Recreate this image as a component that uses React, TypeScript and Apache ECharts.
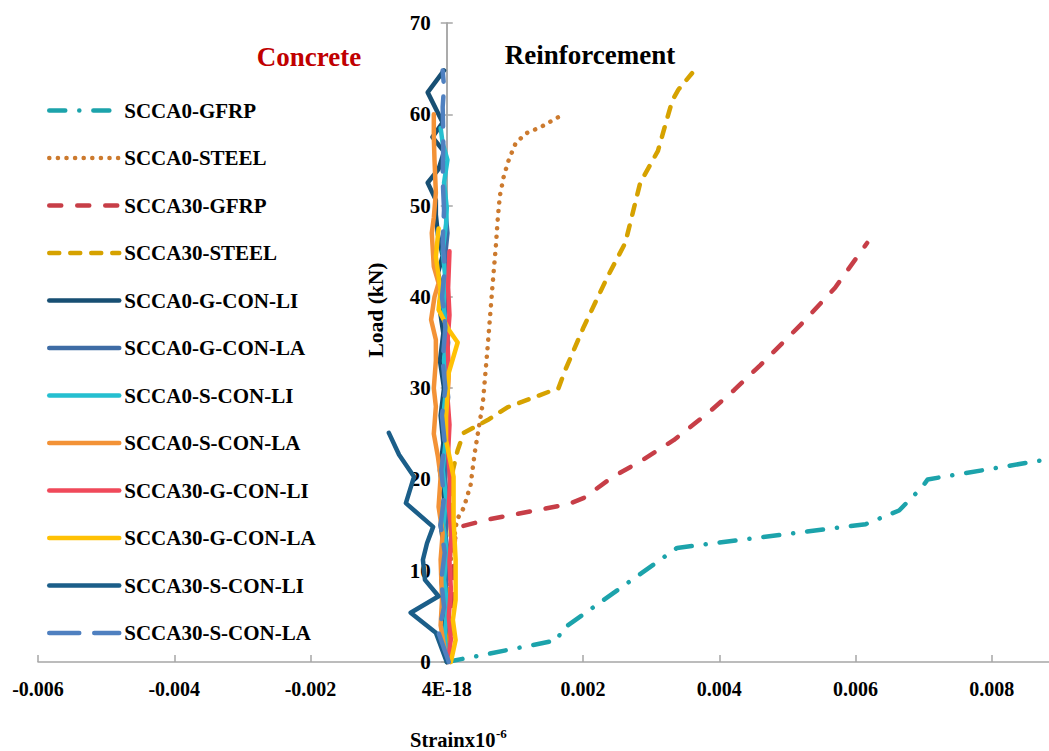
import React, { useEffect, useRef } from "react";
import * as echarts from "echarts";

const FONT = "'Liberation Serif', 'Times New Roman', serif";

const seriesNames = [
  "SCCA0-GFRP",
  "SCCA0-STEEL",
  "SCCA30-GFRP",
  "SCCA30-STEEL",
  "SCCA0-G-CON-LI",
  "SCCA0-G-CON-LA",
  "SCCA0-S-CON-LI",
  "SCCA0-S-CON-LA",
  "SCCA30-G-CON-LI",
  "SCCA30-G-CON-LA",
  "SCCA30-S-CON-LI",
  "SCCA30-S-CON-LA",
];

const xTicks = [-0.006, -0.004, -0.002, 0, 0.002, 0.004, 0.006, 0.008];
const yTicks = [0, 10, 20, 30, 40, 50, 60, 70];

// [strain, load kN]
const scca0Gfrp = [
  [0, 0], [0.00163, 2.4], [0.00168, 3.5], [0.00338, 12.5], [0.00615, 15.1],
  [0.00664, 16.6], [0.00697, 19.1], [0.00706, 20.0], [0.00874, 22.1],
];
const scca0Steel = [
  [0, 0], [0.00006, 11.2], [0.00015, 15.6], [0.00025, 16.9], [0.00035, 19.4],
  [0.00041, 22.9], [0.00053, 28.4], [0.0006, 34.5], [0.00067, 41.1], [0.00072, 45.5],
  [0.00075, 48.7], [0.00078, 51.1], [0.00084, 53.3], [0.00091, 55.0], [0.00101, 56.8],
  [0.00116, 57.9], [0.00138, 58.6], [0.00164, 59.7],
];
const scca30Gfrp = [
  [0.00005, 0], [0.00008, 7], [0.00012, 13.5], [0.00019, 14.8], [0.0006, 15.6],
  [0.00179, 17.3], [0.00202, 18.0], [0.00242, 20.2], [0.00287, 22.1], [0.00333, 24.3],
  [0.00384, 27.3], [0.00422, 29.8], [0.0046, 32.5], [0.00519, 36.9], [0.0057, 41.0],
  [0.00617, 45.9],
];
const scca30Steel = [
  [0, 0], [0.00004, 8], [0.00006, 15], [0.00009, 21], [0.00016, 23.2], [0.00025, 25.1],
  [0.0006, 26.5], [0.00089, 27.9], [0.00164, 30.0], [0.00174, 32.0], [0.00201, 36.7],
  [0.00236, 42.2], [0.00262, 45.9], [0.00284, 52.5], [0.0031, 56.0], [0.00331, 61.5],
  [0.0034, 62.7], [0.0036, 64.5],
];
const scca0GConLi = [
  [0, 0], [-0.00006, 3], [-0.00002, 6], [-0.00008, 9], [-0.00003, 12], [-0.00009, 15],
  [-0.00004, 18], [-0.0001, 21], [-0.00005, 24], [-0.00009, 27], [-0.00004, 30],
  [-0.0001, 33], [-0.00005, 36], [-0.00011, 39], [-0.00007, 41], [-0.00013, 42.6],
  [-0.00006, 44.5], [-0.00013, 46.8], [-0.00016, 49], [-0.00016, 50.6], [-0.00028, 52.5],
  [-0.00012, 54], [-0.00004, 55.9], [-0.00021, 57.5], [-0.00006, 59.1], [-0.00028, 62.4],
  [-0.00004, 64.8],
];
const scca0GConLa = [
  [0, 0], [-0.00004, 2.5], [0.00002, 5], [-0.00002, 8], [0.00003, 11], [-0.00002, 14],
  [0.00002, 17], [-0.00003, 20], [0.00001, 23], [-0.00003, 26], [0.00002, 29],
  [-0.00002, 32], [0.00002, 35], [-0.00003, 38], [0.00001, 41], [-0.00003, 44],
  [0.00001, 47], [-0.00002, 49.5],
];
const scca0SConLi = [
  [0, 0], [-0.00003, 3], [0.00001, 6], [-0.00004, 9], [0, 12], [-0.00005, 15],
  [-0.00001, 18], [-0.00006, 21], [-0.00002, 24], [-0.00005, 27], [-0.00001, 30],
  [-0.00004, 33], [0, 36], [-0.00005, 39], [-0.00002, 42], [-0.00006, 45], [-0.00001, 48],
  [0, 49.8], [-0.00004, 52.5], [0.00001, 55], [-0.00006, 56.8], [-0.00009, 58.5],
];
const scca0SConLa = [
  [0, 0], [-0.00009, 4], [-0.00007, 6.8], [-0.00009, 11.2], [-0.00006, 14.1],
  [-0.00012, 17], [-0.00009, 20.3], [-0.00013, 22.5], [-0.00019, 25], [-0.00016, 28],
  [-0.00019, 30], [-0.00016, 33], [-0.00016, 35.3], [-0.00023, 37.5], [-0.00018, 40],
  [-0.00012, 41.5], [-0.00019, 43.3], [-0.00022, 47], [-0.00019, 48.7], [-0.00016, 51.4],
  [-0.00018, 55], [-0.00019, 57.5], [-0.00019, 60],
];
const scca30GConLi = [
  [0.00002, 0], [0.00006, 2.5], [0.00003, 5], [0.00006, 8], [0.00004, 11], [0.00007, 14],
  [0.00003, 17], [0.00005, 20], [0.00002, 23], [0.00004, 26], [0.00001, 29],
  [0.00003, 32], [0.00001, 35], [0.00004, 38], [0.00002, 41], [0.00004, 45],
];
const scca30GConLa = [
  [0.00006, 0], [0.00013, 2.4], [0.00009, 4.6], [0.00013, 6.8], [0.00013, 11.2],
  [0.0001, 15.6], [0.0001, 20.3], [-0.00001, 24.3], [-0.00001, 26.8], [0.00003, 31.7],
  [0.00016, 35], [0.00003, 36.4], [-0.00012, 38.6], [-0.00009, 40.7], [-0.00016, 44.4],
  [-0.00012, 47.5],
];
const scca30SConLi = [
  [0, 0], [-0.00016, 3.2], [-0.00053, 5.4], [-0.00012, 7.2], [-0.00032, 9.0],
  [-0.00035, 11.2], [-0.00029, 13.0], [-0.0002, 14.8], [-0.0006, 17.4], [-0.00048, 20.3],
  [-0.0007, 22.7], [-0.00085, 25.1],
];
const scca30SConLa = [
  [0.00003, 0], [-0.00012, 3.2], [-0.00004, 6], [-0.00008, 9], [-0.00003, 12],
  [-0.00009, 15], [-0.00004, 18], [-0.00008, 21], [-0.00003, 24], [-0.00007, 27],
  [-0.00002, 30], [-0.00006, 33], [-0.00002, 36.7], [-0.00007, 40], [-0.00003, 43],
  [-0.00006, 46], [-0.00004, 49.5], [-0.00006, 53], [-0.00005, 57.2], [-0.00006, 60.8],
  [-0.00004, 63], [-0.00006, 64.8],
];

const seriesData = [
  scca0Gfrp, scca0Steel, scca30Gfrp, scca30Steel, scca0GConLi, scca0GConLa,
  scca0SConLi, scca0SConLa, scca30GConLi, scca30GConLa, scca30SConLi, scca30SConLa,
];

const seriesColors = [
  "#1CA3AB", "#CC7A2E", "#C73E47", "#D6A200", "#174F73", "#3E6CA5",
  "#25BFD0", "#F39236", "#F0495A", "#FFC104", "#1B5E89", "#4F80C0",
];

const seriesDash: any[] = [
  [16, 14, 0.1, 14],
  [0.1, 8.5],
  [12, 16],
  [10, 11],
  "solid", "solid", "solid", "solid", "solid", "solid", "solid",
  [30, 15],
];

const W = 1049;
const H = 751;
const GRID_LEFT = 38;
const GRID_RIGHT = 0;
const X_MIN = xTicks[0];
const X_MAX = 0.00884;

export default function App() {
  const ref = useRef<HTMLDivElement>(null);
  useEffect(() => {
    if (!ref.current) return;
    const chart = echarts.init(ref.current, undefined, { renderer: "svg" });
    const axisColor = "#A6A6A6";
    const gridW = W - GRID_LEFT - GRID_RIGHT;
    const zeroX = GRID_LEFT + ((0 - X_MIN) / (X_MAX - X_MIN)) * gridW;
    const leftOffset = -(zeroX - GRID_LEFT);
    const rightOffset = -(W - GRID_RIGHT - zeroX);
    const option: any = {
      animation: false,
      backgroundColor: "#fff",
      grid: { left: GRID_LEFT, right: GRID_RIGHT, top: 23, bottom: 89, containLabel: false },
      legend: {
        orient: "vertical",
        left: 42,
        top: 95,
        itemWidth: 70,
        itemHeight: 14,
        itemGap: 26.5,
        data: seriesNames,
        lineStyle: { width: 4.5 },
        itemStyle: { opacity: 0, color: "rgba(0,0,0,0)", borderWidth: 0 },
        textStyle: { fontFamily: FONT, fontWeight: "bold", fontSize: 21, color: "#000" },
      },
      xAxis: {
        type: "value",
        min: X_MIN,
        max: X_MAX,
        interval: 0.002,
        axisLine: { onZero: false, lineStyle: { color: axisColor, width: 1.5 } },
        axisTick: { inside: true, length: 7, lineStyle: { color: axisColor, width: 1.5 } },
        splitLine: { show: false },
        axisLabel: {
          margin: 17,
          showMaxLabel: false,
          fontFamily: FONT,
          fontWeight: "bold",
          fontSize: 20,
          color: "#000",
          formatter: (v: number) => {
            const k = v / 0.002;
            if (Math.abs(k - Math.round(k)) > 1e-6) return "";
            const t = xTicks.find((x) => Math.abs(x - v) < 1e-9);
            if (t === undefined) return "";
            if (t === 0) return "4E-18";
            return t.toFixed(3);
          },
        },
      },
      yAxis: [
        {
          type: "value",
          position: "left",
          offset: leftOffset,
          min: yTicks[0],
          max: yTicks[yTicks.length - 1],
          interval: 10,
          axisLine: { show: true, onZero: false, lineStyle: { color: axisColor, width: 1.5 } },
          axisTick: { show: true, length: 6, lineStyle: { color: axisColor, width: 1.5 } },
          splitLine: { show: false },
          axisLabel: {
            margin: 16,
            fontFamily: FONT,
            fontWeight: "bold",
            fontSize: 21,
            color: "#000",
          },
        },
        {
          type: "value",
          position: "right",
          offset: rightOffset,
          min: yTicks[0],
          max: yTicks[yTicks.length - 1],
          interval: 10,
          axisLine: { show: true, onZero: false, lineStyle: { color: axisColor, width: 1.5 } },
          axisTick: { show: true, length: 6, lineStyle: { color: axisColor, width: 1.5 } },
          splitLine: { show: false },
          axisLabel: { show: false },
        },
      ],
      graphic: [
        {
          type: "text", x: 309, y: 57,
          style: { text: "Concrete", fill: "#C00000", font: `bold 27px ${FONT}`, align: "center", verticalAlign: "middle" },
        },
        {
          type: "text", x: 590, y: 55,
          style: { text: "Reinforcement", fill: "#000", font: `bold 27px ${FONT}`, align: "center", verticalAlign: "middle" },
        },
        {
          type: "text", x: 376, y: 310, rotation: Math.PI / 2,
          style: { text: "Load (kN)", fill: "#000", font: `bold 21.5px ${FONT}`, align: "center", verticalAlign: "middle" },
        },
        {
          type: "text", x: 410, y: 750,
          style: { text: "Strainx10", fill: "#000", font: `bold 20.5px ${FONT}`, align: "left", verticalAlign: "bottom" },
        },
        {
          type: "text", x: 496, y: 733,
          style: { text: "-6", fill: "#000", font: `bold 13px ${FONT}`, align: "left", verticalAlign: "middle" },
        },
      ],
      series: seriesNames.map((name, i) => ({
        name,
        type: "line",
        yAxisIndex: 0,
        data: seriesData[i],
        symbol: "none",
        showSymbol: false,
        silent: true,
        clip: false,
        color: seriesColors[i],
        itemStyle: { color: seriesColors[i] },
        lineStyle: {
          color: seriesColors[i],
          width: 4.5,
          type: seriesDash[i],
          cap: "round",
          join: "round",
        },
      })),
    };
    chart.setOption(option);
    return () => chart.dispose();
  }, []);
  return (
    <div
      ref={ref}
      style={{ position: "fixed", left: 0, top: 0, width: W, height: H, background: "#fff" }}
    />
  );
}
